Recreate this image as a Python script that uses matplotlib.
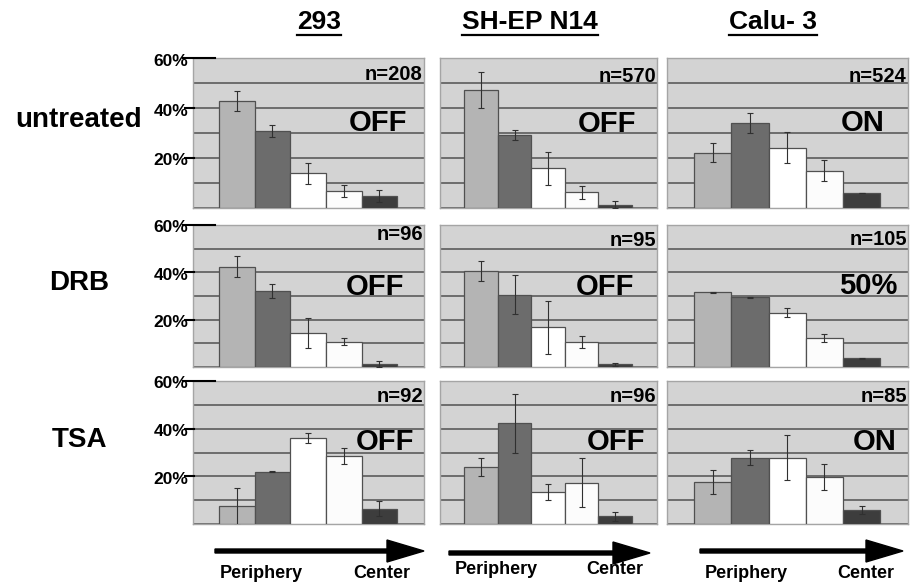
import matplotlib
matplotlib.use("Agg")
import matplotlib.pyplot as plt
import matplotlib.patches as mpatches
from matplotlib.lines import Line2D
import numpy as np

plt.rcParams['font.family'] = ['Liberation Sans', 'DejaVu Sans']
plt.rcParams['font.weight'] = 'bold'

# ---------------- data ----------------
cell_lines = ["293", "SH-EP N14", "Calu- 3"]
treatments = ["untreated", "DRB", "TSA"]
ytick_labels = ["20%", "40%", "60%"]
ytick_values = [20, 40, 60]
axis_labels = ["Periphery", "Center"]

n_untreated = ["n=208", "n=570", "n=524"]
n_drb = ["n=96", "n=95", "n=105"]
n_tsa = ["n=92", "n=96", "n=85"]

status_untreated = ["OFF", "OFF", "ON"]
status_drb = ["OFF", "OFF", "50%"]
status_tsa = ["OFF", "OFF", "ON"]

untreated_293 = [43.0, 31.0, 14.0, 6.8, 4.8]
untreated_293_err = [4.0, 2.4, 4.2, 2.5, 2.5]
untreated_shep = [47.4, 29.2, 15.9, 6.3, 1.3]
untreated_shep_err = [7.2, 2.0, 6.5, 2.7, 1.4]
untreated_calu = [22.2, 34.0, 24.2, 14.9, 5.9]
untreated_calu_err = [3.9, 4.1, 6.2, 4.2, 0.0]

drb_293 = [42.4, 32.1, 14.4, 10.7, 1.3]
drb_293_err = [4.3, 2.9, 6.3, 1.4, 1.2]
drb_shep = [40.6, 30.6, 16.7, 10.7, 1.1]
drb_shep_err = [4.3, 8.1, 11.2, 2.5, 0.8]
drb_calu = [31.5, 29.4, 23.0, 12.2, 3.7]
drb_calu_err = [0.2, 0.3, 2.0, 1.8, 0.2]

tsa_293 = [7.5, 22.0, 36.1, 28.5, 6.4]
tsa_293_err = [7.8, 0.3, 2.1, 3.5, 3.2]
tsa_shep = [24.1, 42.3, 13.4, 17.4, 3.2]
tsa_shep_err = [3.8, 12.4, 3.3, 10.3, 2.0]
tsa_calu = [17.6, 27.9, 27.9, 19.7, 5.9]
tsa_calu_err = [5.2, 3.1, 9.6, 5.4, 1.8]

values = [[untreated_293, untreated_shep, untreated_calu],
          [drb_293, drb_shep, drb_calu],
          [tsa_293, tsa_shep, tsa_calu]]
errors = [[untreated_293_err, untreated_shep_err, untreated_calu_err],
          [drb_293_err, drb_shep_err, drb_calu_err],
          [tsa_293_err, tsa_shep_err, tsa_calu_err]]
n_labels = [n_untreated, n_drb, n_tsa]
status = [status_untreated, status_drb, status_tsa]

# ---------------- style / layout ----------------
W, H = 922, 584
bar_colors = ["#b4b4b4", "#6c6c6c", "#ffffff", "#fcfcfc", "#3d3d3d"]
bg = "#d3d3d3"
grid_c = "#656565"
col_x = [(193, 424), (440, 657), (667, 908)]
row_y = [(58, 208), (225, 367), (381, 524)]
status_pos = [[(0.80, 0.565), (0.77, 0.56), (0.81, 0.567)],
              [(0.79, 0.56), (0.76, 0.56), (0.835, 0.57)],
              [(0.83, 0.57), (0.81, 0.57), (0.863, 0.57)]]
n_ypos = [[0.89, 0.88, 0.88], [0.93, 0.89, 0.90], [0.89, 0.89, 0.89]]

fig = plt.figure(figsize=(W / 100, H / 100), dpi=100)
fig.patch.set_facecolor("white")

def fx(x):
    return x / W

def fy(y):
    return 1 - y / H

for r in range(3):
    for c in range(3):
        x0, x1 = col_x[c]
        y0, y1 = row_y[r]
        ax = fig.add_axes([fx(x0), fy(y1), fx(x1) - fx(x0), fy(y0) - fy(y1)])
        ax.set_facecolor(bg)
        xs = np.arange(5)
        ax.bar(xs, values[r][c], width=1.0, color=bar_colors, edgecolor="#505050",
               linewidth=0.9, zorder=3)
        ax.errorbar(xs, values[r][c], yerr=errors[r][c], fmt="none", ecolor="#303030",
                    elinewidth=0.8, capsize=2, capthick=0.8, zorder=4)
        ax.set_xlim(-1.23, 5.25)
        ax.set_ylim(0, 60)
        ax.set_yticks(range(0, 61, 10))
        ax.set_xticks([])
        ax.grid(axis="y", color=grid_c, linewidth=1.3, zorder=1)
        ax.tick_params(left=False, labelleft=False)
        for s in ax.spines.values():
            s.set_color("#a5a5a5")
            s.set_linewidth(1.0)
        ax.text(0.995, n_ypos[r][c], n_labels[r][c], transform=ax.transAxes,
                ha="right", va="center", fontsize=14.5, fontweight="bold", zorder=5)
        sx, sy = status_pos[r][c]
        ax.text(sx, sy, status[r][c], transform=ax.transAxes, ha="center",
                va="center", fontsize=21, fontweight="bold", zorder=5)

        if c == 0:
            for v, lab in zip(ytick_values, ytick_labels):
                ypix = y1 - (y1 - y0) * v / 60
                if v == 60:
                    fig.add_artist(Line2D([fx(183), fx(215)], [fy(ypix), fy(ypix)],
                                          color="black", lw=1.5))
                else:
                    fig.add_artist(Line2D([fx(185), fx(194)], [fy(ypix), fy(ypix)],
                                          color="black", lw=1.5))
                fig.text(fx(188), fy(ypix + 3), lab, ha="right", va="center",
                         fontsize=12.5, fontweight="bold")

# row labels
row_label_y = [120, 283, 440]
row_label_x = [79, 79, 79]
for lab, yy, xx in zip(treatments, row_label_y, row_label_x):
    fig.text(fx(xx), fy(yy), lab, ha="center", va="center", fontsize=20,
             fontweight="bold")

# column headers with underline
header_cx = [319, 530, 773]
for lab, cx in zip(cell_lines, header_cx):
    t = fig.text(fx(cx), fy(22), lab, ha="center", va="center", fontsize=19,
                 fontweight="bold")
fig.canvas.draw()
renderer = fig.canvas.get_renderer()
for t in fig.texts[-3:]:
    bb = t.get_window_extent(renderer)
    fig.add_artist(Line2D([bb.x0 / W, bb.x1 / W], [fy(35), fy(35)], color="black", lw=1.6))

# arrows and axis labels
arrow_specs = [(215, 424, 551), (449, 650, 553), (700, 903, 551)]
for (a0, a1, ay) in arrow_specs:
    arr = mpatches.FancyArrow(fx(a0), fy(ay), fx(a1) - fx(a0), 0,
                              width=4 / H, head_width=22 / H, head_length=37 / W,
                              length_includes_head=True, color="black",
                              transform=fig.transFigure)
    fig.add_artist(arr)

label_specs = [((261, 573), (382, 573)), ((496, 570), (615, 570)), ((746, 573), (866, 573))]
for (p, ce) in label_specs:
    fig.text(fx(p[0]), fy(p[1]), axis_labels[0], ha="center", va="center",
             fontsize=13, fontweight="bold")
    fig.text(fx(ce[0]), fy(ce[1]), axis_labels[1], ha="center", va="center",
             fontsize=13, fontweight="bold")

fig.savefig("out.png", dpi=100, facecolor="white")
